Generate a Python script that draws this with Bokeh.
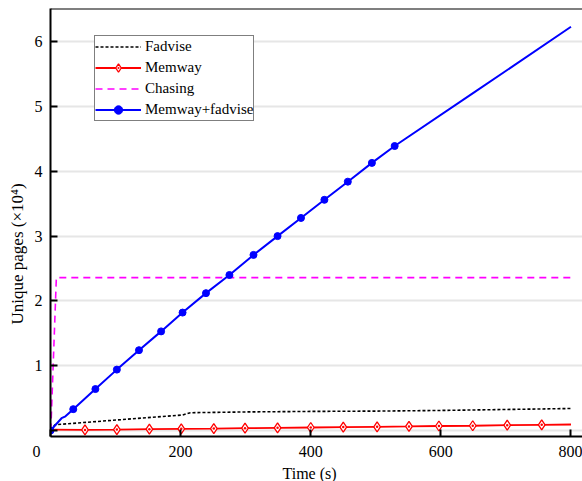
from bokeh.plotting import figure
from bokeh.models import (Range1d, FixedTicker, Legend, LegendItem, Span, Title)
from bokeh.embed import file_html
from bokeh.resources import INLINE

# ---- data (time in s, unique pages in 1e4) ----
fadvise_t = [0, 7, 203, 215, 300, 400, 500, 600, 700, 800]
fadvise_v = [0.01, 0.09, 0.24, 0.275, 0.287, 0.295, 0.30, 0.31, 0.325, 0.34]

memway_t = [0, 53, 102, 152, 201, 251, 299, 349, 400, 450, 502, 551, 597, 649, 702, 755, 800]
memway_v = [0.015, 0.01, 0.015, 0.021, 0.026, 0.031, 0.037, 0.042, 0.047, 0.053, 0.058,
            0.063, 0.07, 0.074, 0.082, 0.088, 0.093]
memway_marker_t = memway_t[1:-1]
memway_marker_v = memway_v[1:-1]

chasing_t = [0.5, 9, 800]
chasing_v = [0.0, 2.36, 2.36]

mf_t = [0, 17, 23, 35, 69, 102, 136, 170, 203, 239, 275, 312, 349, 385, 421, 457, 494, 529, 650, 800]
mf_v = [0.0, 0.19, 0.22, 0.33, 0.64, 0.94, 1.24, 1.53, 1.82, 2.12, 2.40, 2.71, 3.00, 3.28,
        3.56, 3.84, 4.13, 4.39, 5.21, 6.23]
mf_marker_t = [0, 35, 69, 102, 136, 170, 203, 239, 275, 312, 349, 385, 421, 457, 494, 529]
mf_marker_v = [0.0, 0.33, 0.64, 0.94, 1.24, 1.53, 1.82, 2.12, 2.40, 2.71, 3.00, 3.28,
               3.56, 3.84, 4.13, 4.39]

x_ticks = [0, 200, 400, 600, 800]
y_ticks = [0, 1, 2, 3, 4, 5, 6]
x_title = "Time (s)"
y_title = "Unique pages (×10⁴)"

FONT = "Liberation Serif"
NBSP = "\u00a0"
X0, X1 = 0, 817.7
Y0, Y1 = -0.092, 6.512

p = figure(width=582, height=481, output_backend="svg", toolbar_location=None,
           x_range=Range1d(X0, X1), y_range=Range1d(Y0, Y1),
           min_border_left=50, min_border_right=0, min_border_top=8, min_border_bottom=44)
p.outline_line_color = None
p.background_fill_color = "white"

# axes
p.xaxis.ticker = FixedTicker(ticks=x_ticks)
p.yaxis.ticker = FixedTicker(ticks=y_ticks)
# the shared origin label sits left of the axis corner
p.xaxis.major_label_overrides = {0: "0" + NBSP * 7}
p.yaxis.major_label_overrides = {0: ""}
for ax in (p.xaxis[0], p.yaxis[0]):
    ax.axis_line_color = "black"
    ax.axis_line_width = 2
    ax.major_tick_line_color = "black"
    ax.major_tick_line_width = 2
    ax.major_tick_in = 7
    ax.major_tick_out = 0
    ax.minor_tick_line_color = None
    ax.major_label_text_font = FONT
    ax.major_label_text_font_size = "16px"
    ax.major_label_text_color = "black"
p.xaxis.major_label_standoff = 6
p.yaxis.major_label_standoff = 8

p.xgrid.grid_line_color = None
p.ygrid.grid_line_color = "#e6e6e6"
p.ygrid.grid_line_width = 2

# top border
p.add_layout(Span(location=Y1, dimension="width", line_color="black", line_width=2))

# axis titles
xt = Title(text=x_title, align="left", offset=232, text_font=FONT, text_font_size="16px",
           text_font_style="normal", text_color="black", standoff=0)
p.add_layout(xt, "below")
yt = Title(text=y_title, align="left", offset=112, text_font=FONT, text_font_size="17px",
           text_font_style="normal", text_color="black", standoff=10)
p.add_layout(yt, "left")

# series
r_fad = p.line(fadvise_t, fadvise_v, line_color="black", line_width=1.6, line_dash="3 2")
r_mem_l = p.line(memway_t, memway_v, line_color="#ff0000", line_width=1.8)
r_mem_m = p.scatter(memway_marker_t, memway_marker_v, marker="diamond_dot", size=10,
                    line_color="#ff0000", fill_color="white", line_width=1.3)
r_cha = p.line(chasing_t, chasing_v, line_color="#ff00ff", line_width=1.6, line_dash="7 5")
r_mf_l = p.line(mf_t, mf_v, line_color="#0000ff", line_width=2)
r_mf_m = p.scatter(mf_marker_t, mf_marker_v, marker="circle", size=7,
                   line_color="#0000ff", fill_color="#0000ff")

legend = Legend(items=[
    LegendItem(label="Fadvise", renderers=[r_fad]),
    LegendItem(label="Memway", renderers=[r_mem_l, r_mem_m]),
    LegendItem(label="Chasing", renderers=[r_cha]),
    LegendItem(label="Memway+fadvise", renderers=[r_mf_l, r_mf_m]),
], location=(44, 315))
legend.label_text_font = FONT
legend.label_text_font_size = "15px"
legend.label_text_color = "black"
legend.glyph_width = 46
legend.glyph_height = 21
legend.label_height = 21
legend.label_standoff = 4
legend.spacing = 0
legend.padding = 0
legend.margin = 0
legend.border_line_color = "black"
legend.border_line_width = 1
legend.background_fill_color = "white"
legend.background_fill_alpha = 1
p.add_layout(legend, "center")

open("out.html", "w").write(file_html(p, INLINE))
